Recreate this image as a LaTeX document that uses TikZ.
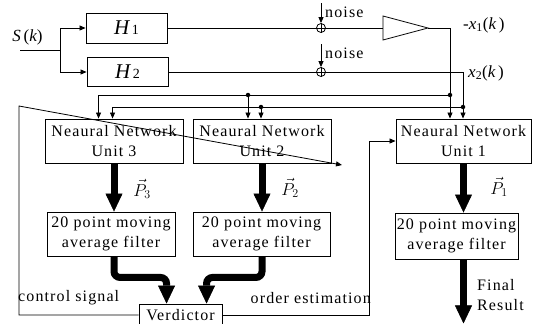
\documentclass[tikz,border=0pt]{standalone}
\usepackage{fontspec}
\setmainfont{Liberation Serif}[LetterSpace=7]
\usetikzlibrary{arrows.meta,calc}
\begin{document}
\begin{tikzpicture}[x=1pt,y=-1pt,
  box/.style={draw,line width=0.9pt,inner sep=0pt,align=center,font=\fontsize{16}{20}\selectfont},
  thin/.style={line width=0.8pt},
  arr/.style={thin,-{Triangle[length=6pt,width=5pt]}},
  big/.style={line width=7pt,-{Triangle[length=18pt,width=17pt,line width=0.5pt]}},
  dot/.style={circle,fill,inner sep=0pt,minimum size=4.5pt},
  lbl/.style={inner sep=0pt,font=\fontsize{16}{20}\selectfont},
  plbl/.style={inner sep=0pt,font=\fontsize{18}{18}\selectfont},
  sum/.style={circle,draw,line width=0.8pt,minimum size=9pt,inner sep=0pt}
]
\useasboundingbox (0,0) rectangle (533,324);

% input and H blocks
\node[box,minimum width=81pt,minimum height=30pt] (h1) at (126.5,28) {{\fontsize{21}{21}\selectfont\itshape H}\,{\fontsize{14}{14}\selectfont 1}};
\node[box,minimum width=81pt,minimum height=29pt] (h2) at (127.5,72) {{\fontsize{21}{21}\selectfont\itshape H}\,{\fontsize{14}{14}\selectfont 2}};
\coordinate (sin) at (20,50);
\coordinate (br) at (60,50);
\node[lbl] (slbl) at (27.5,37) {\fontsize{17}{17}\selectfont\itshape S\,\upshape(\itshape k\upshape)};
\draw[thin] (sin) -- (br);
\draw[arr] (br) |- (h1.west);
\draw[arr] (br) |- (h2.west);

% noise summers
\node[sum] (s1) at (321,28) {};
\node[sum] (s2) at (321,72) {};
\draw[thin] (s1.north) -- (s1.south) (s1.west) -- (s1.east);
\draw[thin] (s2.north) -- (s2.south) (s2.west) -- (s2.east);
\coordinate (n1) at (321,3);
\coordinate (n2) at (321,44);
\draw[arr] (n1) -- (s1.north);
\draw[arr] (n2) -- (s2.north);
\node[lbl,anchor=west] (nl1) at (325,12) {noise};
\node[lbl,anchor=west] (nl2) at (325,53) {noise};

% amplifier
\coordinate (ampL) at (383,28);
\coordinate (ampR) at (428,28);
\draw[thin] (383,16) -- (ampR) -- (383,40) -- cycle;
\draw[thin] (h1.east) -- (s1.west);
\draw[thin] (s1.east) -- (ampL);
\draw[thin] (h2.east) -- (s2.west);

% NN boxes
\node[box,minimum width=138pt,minimum height=44pt] (nn3) at (114,141) {Neaural Network\\Unit 3};
\node[box,minimum width=138pt,minimum height=44pt] (nn2) at (262,141) {Neaural Network\\Unit 2};
\node[box,minimum width=135pt,minimum height=44pt] (nn1) at (463.5,141) {Neaural Network\\Unit 1};

% filters
\node[box,minimum width=128pt,minimum height=44pt] (f3) at (111,234) {20 point moving\\average filter};
\node[box,minimum width=137pt,minimum height=44pt] (f2) at (261.5,234) {20 point moving\\average filter};
\node[box,minimum width=123pt,minimum height=46pt] (f1) at (456.5,236) {20 point moving\\average filter};

% verdictor
\node[box,minimum width=83pt,minimum height=22pt] (verd) at (180.5,315) {Verdictor};

% signal buses
\coordinate (dA) at (450,95);
\coordinate (dB) at (463,107);
\coordinate (eA) at (248,95);
\coordinate (eB) at (261,107);
\draw[thin] (ampR) -| (dA);
\draw[thin] (s2.east) -| (dB);
\draw[arr] (dA) -- (dA |- nn1.north);
\draw[arr] (dB) -- (dB |- nn1.north);
\draw[arr] (dA) -| ($(nn3.north west)+(54,0)$);
\draw[arr] (dB) -| ($(nn3.north west)+(68,0)$);
\draw[arr] (eA) -- (eA |- nn2.north);
\draw[arr] (eB) -- (eB |- nn2.north);
\foreach \p in {dA,dB,eA,eB} \node[dot] at (\p) {};

\node[lbl,anchor=west] (x1l) at (463,25) {\fontsize{17}{17}\selectfont -{\itshape x}\textsubscript{1}({\itshape k\,})};
\node[lbl,anchor=west] (x2l) at (468,73) {\fontsize{17}{17}\selectfont {\itshape x}\textsubscript{2}({\itshape k\,})};

% thick arrows
\draw[big] (nn3.south) -- (nn3.south |- f3.north);
\draw[big] (nn2.south) -- (nn2.south |- f2.north);
\draw[big] (nn1.south) -- (nn1.south |- f1.north);
\draw[big,rounded corners=6pt] (nn3.south |- f3.south) -- ++(0,21) -| ($(verd.north west)+(28,0)$);
\draw[big,rounded corners=6pt] (nn2.south |- f2.south) -- ++(0,21) -| ($(verd.north west)+(68,0)$);
\draw[big] (nn1.south |- f1.south) -- ++(0,64);

\node[plbl] (p3) at (142,189) {$\vec{P}_3$};
\node[plbl] (p2) at (290,188) {$\vec{P}_2$};
\node[plbl] (p1) at (499,187) {$\vec{P}_1$};

% control signal
\coordinate (cs) at (19,106);
\coordinate (cst) at (342,165);
\draw[arr] (verd.west) -| (cs) -- (cst);
\node[lbl,anchor=west] (csl) at (18,298) {control signal};

% order estimation
\coordinate (oe) at (369,141);
\draw[arr] (verd.east) -| (oe) -- (nn1.west);
\node[lbl,anchor=east] (oel) at (371,298) {order estimation};

\node[lbl,anchor=west,align=left] (fin) at (477,295) {Final\\Result};
\end{tikzpicture}
\end{document}
